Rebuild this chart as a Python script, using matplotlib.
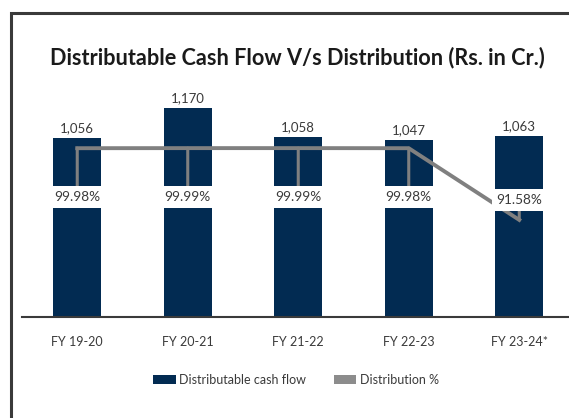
import matplotlib
matplotlib.use('Agg')
import matplotlib.pyplot as plt
from matplotlib.patches import Patch, Rectangle

plt.rcParams['font.family'] = ['Lato', 'DejaVu Sans']

years = ['FY 19-20', 'FY 20-21', 'FY 21-22', 'FY 22-23', 'FY 23-24*']
cash_flow = [1056, 1170, 1058, 1047, 1063]
cash_labels = ['1,056', '1,170', '1,058', '1,047', '1,063']
distribution = [99.98, 99.99, 99.99, 99.98, 91.58]

NAVY = '#022b52'
GREY = '#808080'
TEXT = '#3a3a3a'

W, H = 569, 418
fig = plt.figure(figsize=(W / 100, H / 100), dpi=100)

# outer frame (right and bottom edges are cut off in the original)
fig.patches.append(Rectangle((11 / W, -0.1), 1.2, 1.1 - 13 / H,
                             transform=fig.transFigure, fill=False,
                             edgecolor='#3a3a3a', linewidth=2.2))

fig.text(297 / W, 1 - 58 / H, 'Distributable Cash Flow V/s Distribution (Rs. in Cr.)',
         ha='center', va='center', fontsize=15.6, fontweight='bold', color='#1a1a1a')

ax = fig.add_axes([22 / W, (H - 317) / H, 552.5 / W, 227 / H])
x = range(len(years))
ax.bar(x, cash_flow, width=0.434, color=NAVY, zorder=2)
ax.set_xlim(-0.5, 4.5)
ax.set_ylim(375, 1238)
for i, v in enumerate(cash_flow):
    ax.annotate(cash_labels[i], (i, v), xytext=(0, 4), textcoords='offset pixels',
                ha='center', va='bottom', fontsize=9.5, color=TEXT)

ax.set_xticks(list(x))
ax.set_xticklabels(years, fontsize=9, color=TEXT)
ax.tick_params(axis='x', length=0, pad=14)
ax.set_yticks([])
for s in ['top', 'right', 'left']:
    ax.spines[s].set_visible(False)
ax.spines['bottom'].set_color('#3a3a3a')
ax.spines['bottom'].set_linewidth(1.5)

ax2 = ax.twinx()
ax2.plot(list(x), distribution, color=GREY, linewidth=2.8, zorder=3)
ax2.set_ylim(80.2, 106.8)
ax2.set_yticks([])
for s in ax2.spines.values():
    s.set_visible(False)

for i, p in enumerate(distribution):
    dy = -49 if i < 4 else 20
    ax2.annotate(f'{p:.2f}%', (i, p), xytext=(0, dy), textcoords='offset pixels',
                 ha='center', va='center', fontsize=9.8, color=TEXT, zorder=5,
                 bbox=dict(boxstyle='square,pad=0.35', facecolor='white', edgecolor='none'),
                 arrowprops=dict(arrowstyle='-', color=GREY, lw=2.2,
                                 shrinkA=0, shrinkB=0))

handles = [Patch(facecolor=NAVY, label='Distributable cash flow'),
           Patch(facecolor='#8c8c8c', label='Distribution %')]
fig.legend(handles=handles, loc='center', bbox_to_anchor=(296 / W, 1 - 380 / H),
           ncol=2, frameon=False, fontsize=9, handlelength=1.8, handleheight=0.7,
           handletextpad=0.3, columnspacing=2.2, labelcolor=TEXT)

fig.savefig('out.png', dpi=100)
